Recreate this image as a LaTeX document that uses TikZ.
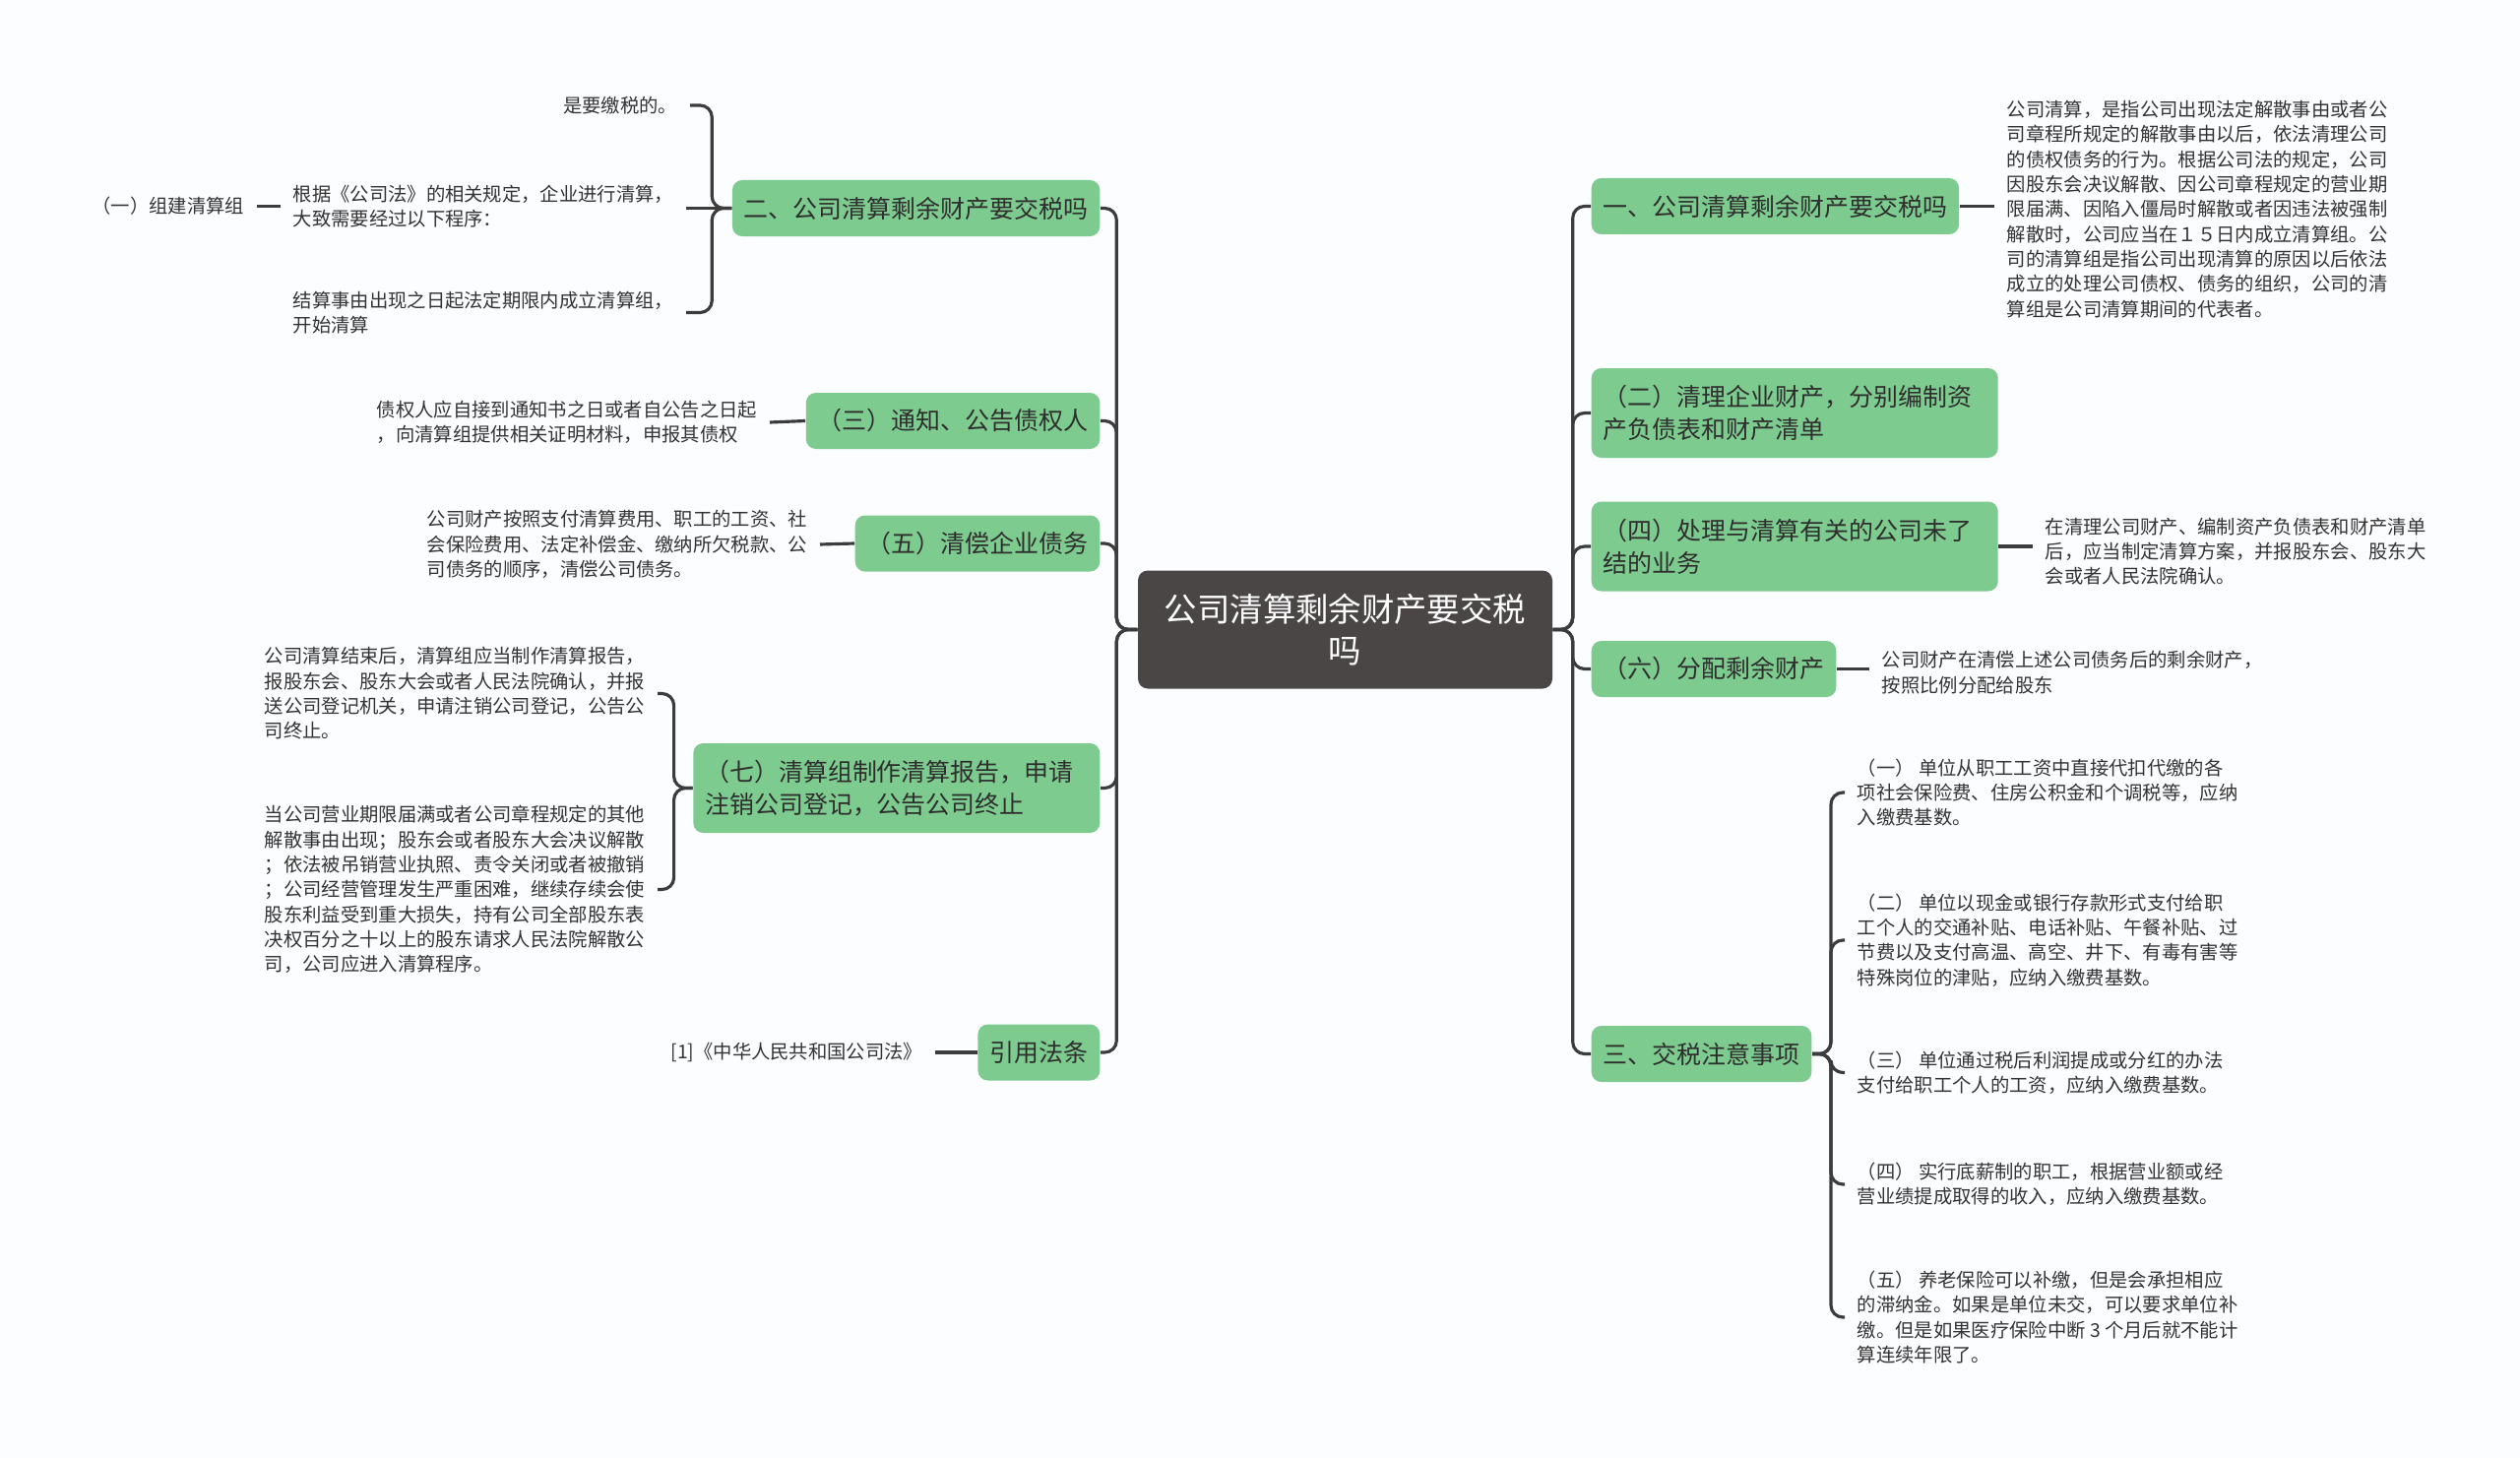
\documentclass[tikz,border=0pt]{standalone}
\usepackage{fontspec}
\setmainfont{Noto Sans CJK SC}
\usepackage{tikz}
\usetikzlibrary{positioning,calc}
\definecolor{nodegreen}{HTML}{7ECB8F}
\definecolor{rootgray}{HTML}{4B4646}
\definecolor{linegray}{HTML}{3C3C3C}
\definecolor{nodetext}{HTML}{2E2E2E}
\definecolor{leaftext}{HTML}{333333}
\definecolor{bgcol}{HTML}{FCFDFF}

\begin{document}
\begin{tikzpicture}[y=-1cm,
    root/.style={fill=rootgray, rounded corners=0.1cm, text=white, minimum width=4.21cm, minimum height=1.2cm, align=center, font=\fontsize{9.5pt}{12pt}\selectfont},
    branch/.style={fill=nodegreen, rounded corners=0.1cm, text=nodetext, inner xsep=0.12cm, minimum height=0.57cm, align=left, font=\fontsize{7.1pt}{9.4pt}\selectfont},
    branchtwo/.style={branch, text width=3.89cm, minimum height=0.91cm},
    leaf/.style={text=leaftext, inner xsep=0.12cm, inner ysep=0pt, align=left, font=\fontsize{5.5pt}{7.2pt}\selectfont},
    link/.style={draw=linegray, line width=0.9pt, rounded corners=0.12cm}]

    % background
    \fill[bgcol] (0,0) rectangle (25.6,14.81);
    \useasboundingbox (0,0) rectangle (25.6,14.81);

    % Root
    \node[root] (root) at (13.665,6.395) {公司清算剩余财产要交税\\吗};

    % Left branches
    \node[branch, anchor=east] (tax2) at (11.18,2.115) {二、公司清算剩余财产要交税吗};
    \node[branch, anchor=east] (notice) at (11.18,4.275) {（三）通知、公告债权人};
    \node[branch, anchor=east] (debts) at (11.18,5.52) {（五）清偿企业债务};
    \node[branchtwo, anchor=east] (report) at (11.18,8.005) {（七）清算组制作清算报告，申请\\注销公司登记，公告公司终止};
    \node[branch, anchor=east] (cite) at (11.18,10.69) {引用法条};

    % Right branches
    \node[branch, anchor=west] (tax1) at (16.16,2.095) {一、公司清算剩余财产要交税吗};
    \node[branchtwo, anchor=west] (clean) at (16.16,4.195) {（二）清理企业财产，分别编制资\\产负债表和财产清单};
    \node[branchtwo, anchor=west] (pending) at (16.16,5.55) {（四）处理与清算有关的公司未了\\结的业务};
    \node[branch, anchor=west] (share) at (16.16,6.795) {（六）分配剩余财产};
    \node[branch, anchor=west] (notes) at (16.16,10.705) {三、交税注意事项};

    % Trunk links
    \foreach \n in {tax2,notice,debts,report,cite}
        \draw[link] (root.west) -- ++(-0.21,0) |- (\n.east);
    \foreach \n in {tax1,clean,pending,share,notes}
        \draw[link] (root.east) -- ++(0.2,0) |- (\n.west);

    % Left leaves
    \node[leaf, anchor=east] (mustpay) at (7.01,1.07) {是要缴税的。};
    \node[leaf, anchor=east] (steps) at (6.97,2.095) {根据《公司法》的相关规定，企业进行清算，\\大致需要经过以下程序：};
    \node[leaf, anchor=east] (setup) at (6.97,3.175) {结算事由出现之日起法定期限内成立清算组，\\开始清算};
    \node[leaf, anchor=east] (group) at (2.61,2.095) {（一）组建清算组};
    \node[leaf, anchor=east] (creditor) at (7.82,4.29) {债权人应自接到通知书之日或者自公告之日起\\，向清算组提供相关证明材料，申报其债权};
    \node[leaf, anchor=east] (order) at (8.33,5.53) {公司财产按照支付清算费用、职工的工资、社\\会保险费用、法定补偿金、缴纳所欠税款、公\\司债务的顺序，清偿公司债务。};
    \node[leaf, anchor=east] (finish) at (6.68,7.045) {公司清算结束后，清算组应当制作清算报告，\\报股东会、股东大会或者人民法院确认，并报\\送公司登记机关，申请注销公司登记，公告公\\司终止。};
    \node[leaf, anchor=east] (dissolve) at (6.68,9.035) {当公司营业期限届满或者公司章程规定的其他\\解散事由出现；股东会或者股东大会决议解散\\；依法被吊销营业执照、责令关闭或者被撤销\\；公司经营管理发生严重困难，继续存续会使\\股东利益受到重大损失，持有公司全部股东表\\决权百分之十以上的股东请求人民法院解散公\\司，公司应进入清算程序。};
    \node[leaf, anchor=east] (law) at (9.50,10.69) {[1]《中华人民共和国公司法》};

    \foreach \n in {mustpay,setup}
        \draw[link] (tax2.west) -- ++(-0.2,0) |- (\n.east);
    \draw[link] (tax2.west) -- (tax2.west -| steps.east);
    \draw[link] (steps.west) -- (group.east);
    \draw[link] (notice.west) -- (creditor.east);
    \draw[link] (debts.west) -- (order.east);
    \foreach \n in {finish,dissolve}
        \draw[link] (report.west) -- ++(-0.19,0) |- (\n.east);
    \draw[link] (cite.west) -- (law.east);

    % Right leaves
    \node[leaf, anchor=west] (define) at (20.26,2.125) {公司清算，是指公司出现法定解散事由或者公\\司章程所规定的解散事由以后，依法清理公司\\的债权债务的行为。根据公司法的规定，公司\\因股东会决议解散、因公司章程规定的营业期\\限届满、因陷入僵局时解散或者因违法被强制\\解散时，公司应当在１５日内成立清算组。公\\司的清算组是指公司出现清算的原因以后依法\\成立的处理公司债权、债务的组织，公司的清\\算组是公司清算期间的代表者。};
    \node[leaf, anchor=west] (plan) at (20.65,5.60) {在清理公司财产、编制资产负债表和财产清单\\后，应当制定清算方案，并报股东会、股东大\\会或者人民法院确认。};
    \node[leaf, anchor=west] (rest) at (18.99,6.83) {公司财产在清偿上述公司债务后的剩余财产，\\按照比例分配给股东};
    \node[leaf, anchor=west] (item1) at (18.74,8.05) {（一） 单位从职工工资中直接代扣代缴的各\\项社会保险费、住房公积金和个调税等，应纳\\入缴费基数。};
    \node[leaf, anchor=west] (item2) at (18.74,9.55) {（二） 单位以现金或银行存款形式支付给职\\工个人的交通补贴、电话补贴、午餐补贴、过\\节费以及支付高温、高空、井下、有毒有害等\\特殊岗位的津贴，应纳入缴费基数。};
    \node[leaf, anchor=west] (item3) at (18.74,10.895) {（三） 单位通过税后利润提成或分红的办法\\支付给职工个人的工资，应纳入缴费基数。};
    \node[leaf, anchor=west] (item4) at (18.74,12.03) {（四） 实行底薪制的职工，根据营业额或经\\营业绩提成取得的收入，应纳入缴费基数。};
    \node[leaf, anchor=west] (item5) at (18.74,13.38) {（五） 养老保险可以补缴，但是会承担相应\\的滞纳金。如果是单位未交，可以要求单位补\\缴。但是如果医疗保险中断 3 个月后就不能计\\算连续年限了。};

    \draw[link] (tax1.east) -- (tax1.east -| define.west);
    \draw[link] (pending.east) -- (pending.east -| plan.west);
    \draw[link] (share.east) -- (share.east -| rest.west);
    \foreach \n in {item1,item2,item3,item4,item5}
        \draw[link] (notes.east) -- ++(0.19,0) |- (\n.west);
\end{tikzpicture}
\end{document}
